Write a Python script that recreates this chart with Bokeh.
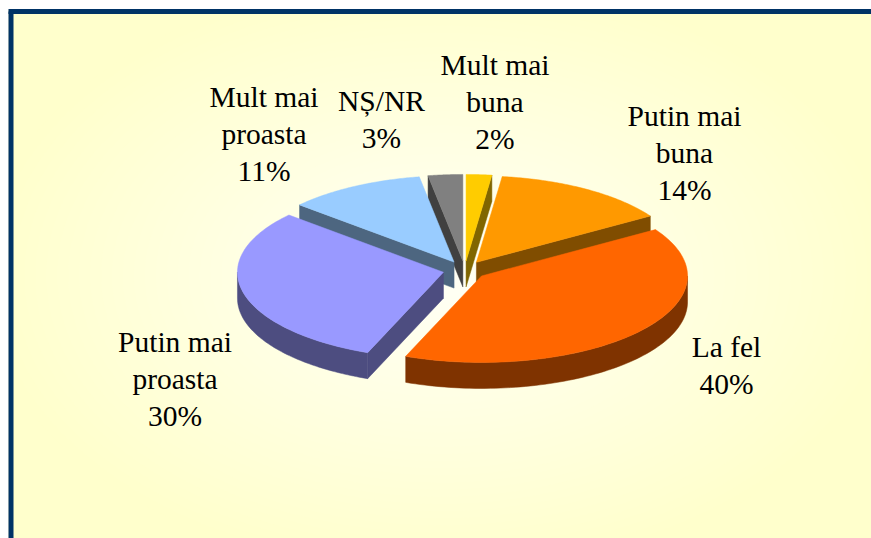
import numpy as np
from bokeh.plotting import figure
from bokeh.models import Range1d
from bokeh.core.properties import value
from bokeh.embed import file_html
from bokeh.resources import INLINE

# ---- data ----
categories = ["Mult mai buna", "Putin mai buna", "La fel", "Putin mai proasta", "Mult mai proasta", "NȘ/NR"]
values = [2, 14, 40, 30.5, 10.8, 2.7]
top_colors = ["#FFCC00", "#FF9900", "#FF6600", "#9999FF", "#99CCFF", "#808080"]
wall_colors = ["#806600", "#804D00", "#7F3300", "#4D4D80", "#4D6680", "#404040"]
draw_order = [5, 0, 4, 1, 3, 2]
label_lines = [["Mult mai", "buna", "2%"], ["Putin mai", "buna", "14%"], ["La fel", "40%"],
               ["Putin mai", "proasta", "30%"], ["Mult mai", "proasta", "11%"], ["NȘ/NR", "3%"]]

# ---- layout ----
label_x = [494.5, 684, 726, 174.5, 263.5, 381]
label_y0 = [64, 115, 346, 341, 96, 100]
line_step = 37.3
CX, CY, A, B, DEPTH, EXPLODE = 464.2, 269.6, 206, 86.5, 26, 0.106
W, H = 871, 538

p = figure(width=W, height=H, x_range=Range1d(0, W), y_range=Range1d(H, 0),
           output_backend="svg", toolbar_location=None, min_border=0,
           outline_line_color=None, background_fill_color="white", border_fill_color="white")
p.axis.visible = False
p.grid.visible = False

# background: pale yellow fading towards the middle, as concentric bands
p.patch([8, W, W, 8], [9, 9, H, H], fill_color="#FFFFCC", line_color=None)
n_bands = 42
tt = np.linspace(0, 2 * np.pi, 120)
for k in range(n_bands):
    r = 1 - k / n_bands
    bl = int(round(246 + (204 - 246) * r))
    c = "#FFFF%02X" % bl
    ex = np.clip(440 + 460 * r * np.cos(tt), 13, W)
    ey = np.clip(275 + 300 * r * np.sin(tt), 13, H)
    p.patch(ex, ey, fill_color=c, line_color=None)

# frame
p.line(x=[10.5, 10.5], y=[H, 11], line_color="#003366", line_width=5)
p.line(x=[8, W], y=[11, 11], line_color="#003366", line_width=5)

# pie, built from the values
cum = np.cumsum([0] + values) / sum(values) * 2 * np.pi
for i in draw_order:
    s, e = cum[i], cum[i + 1]
    m = (s + e) / 2
    cx = CX + EXPLODE * A * np.sin(m)
    cy = CY - EXPLODE * B * np.cos(m)
    ang = np.linspace(s, e, 80)
    ax = cx + A * np.sin(ang)
    ay = cy - B * np.cos(ang)
    col, wall = top_colors[i], wall_colors[i]
    for edge, visible in ((s, np.sin(s) < 0), (e, np.sin(e) > 0)):
        if visible:
            ex, ey = cx + A * np.sin(edge), cy - B * np.cos(edge)
            p.patch([cx, ex, ex, cx], [cy, ey, ey + DEPTH, cy + DEPTH], fill_color=wall,
                    line_color=wall, line_width=0.5)
    lo, hi = max(s, np.pi / 2), min(e, 3 * np.pi / 2)
    if hi > lo:
        w = np.linspace(lo, hi, 80)
        wx = cx + A * np.sin(w)
        wy = cy - B * np.cos(w)
        p.patch(np.r_[wx, wx[::-1]], np.r_[wy, wy[::-1] + DEPTH], fill_color=wall,
                line_color=wall, line_width=0.5)
    p.patch(np.r_[cx, ax], np.r_[cy, ay], fill_color=col, line_color=col, line_width=0.5)

# labels
for lines, lx, ly in zip(label_lines, label_x, label_y0):
    for k, txt in enumerate(lines):
        p.text(x=[lx], y=[ly + k * line_step], text=[txt], text_font=value("Liberation Serif"),
               text_font_size="29.5px", text_color="black", text_align="center", text_baseline="middle")

open("out.html", "w").write(file_html(p, INLINE))
